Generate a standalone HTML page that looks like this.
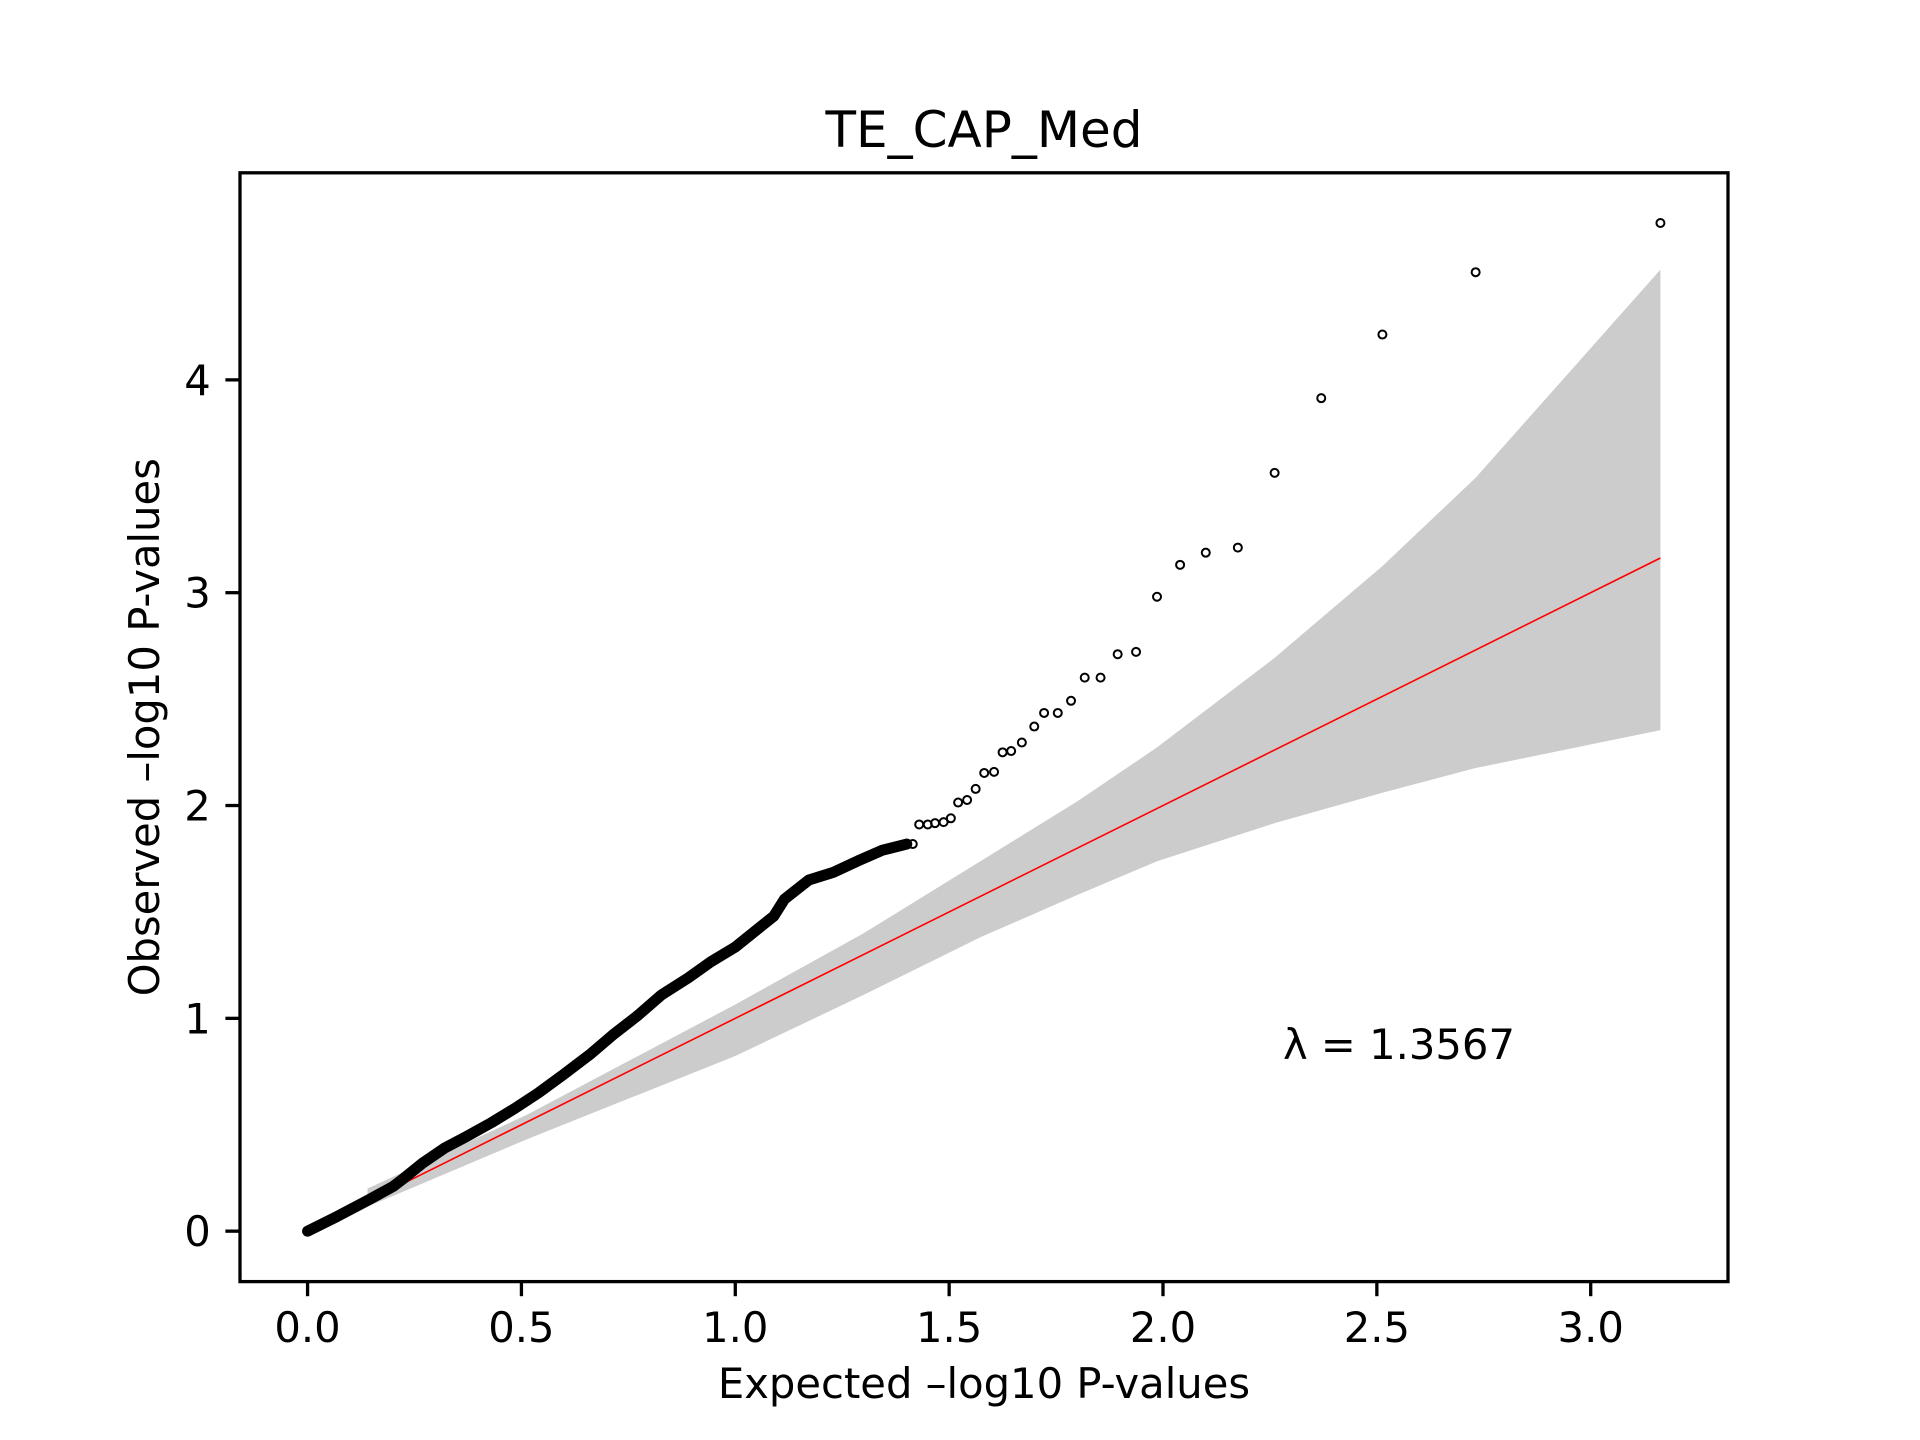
<!DOCTYPE html>
<html><head><meta charset="utf-8">
<style>
html,body{margin:0;padding:0;background:#fff;}
svg{display:block;}
text{font-family:"DejaVu Sans","Liberation Sans",sans-serif;fill:#000;}
</style></head>
<body>
<svg id="chart" width="1920" height="1440" viewBox="0 0 1920 1440" xmlns="http://www.w3.org/2000/svg">
<rect width="1920" height="1440" fill="#fff"/>
<g id="plot"></g>
</svg>
<script>
// ---- data ----
const denseX = [0,0.07,0.14,0.2,0.226,0.269,0.32,0.37,0.43,0.484,0.54,0.599,0.66,0.713,0.77,0.828,0.89,0.943,1.0,1.057,1.09,1.115,1.172,1.229,1.287,1.344,1.401];
const denseY = [0,0.07,0.144,0.21,0.25,0.32,0.39,0.443,0.51,0.576,0.65,0.737,0.83,0.921,1.01,1.111,1.19,1.266,1.335,1.427,1.48,1.56,1.65,1.686,1.74,1.79,1.819];
const sparseX = [3.163,2.731,2.513,2.370,2.261,2.175,2.100,2.040,1.986,1.937,1.894,1.854,1.817,1.785,1.754,1.722,1.699,1.670,1.645,1.625,1.605,1.582,1.562,1.542,1.521,1.504,1.487,1.467,1.450,1.430,1.415];
const sparseY = [4.737,4.506,4.213,3.914,3.563,3.212,3.188,3.131,2.981,2.722,2.711,2.601,2.601,2.492,2.435,2.435,2.371,2.296,2.256,2.250,2.158,2.153,2.078,2.026,2.014,1.940,1.922,1.917,1.911,1.911,1.819];
const bandX = [0.14,0.513,1.0,1.3,1.573,1.8,1.986,2.261,2.513,2.731,3.163];
const bandUpper = [0.2,0.547,1.065,1.40,1.738,2.02,2.273,2.694,3.125,3.540,4.518];
const bandLower = [0.115,0.432,0.823,1.11,1.381,1.58,1.738,1.917,2.060,2.176,2.354];
const refLine = [0,3.163];
const xTicks = [0,0.5,1.0,1.5,2.0,2.5,3.0];
const xTickLabels = ["0.0","0.5","1.0","1.5","2.0","2.5","3.0"];
const yTicks = [0,1,2,3,4];
const yTickLabels = ["0","1","2","3","4"];
const lambdaText = "λ = 1.3567";

// ---- axes ----
const L=240,R=1728,T=172.8,B=1281.6;
const xmin=-0.158,xmax=3.321,ymin=-0.237,ymax=4.973;
const sx=v=>L+(v-xmin)/(xmax-xmin)*(R-L);
const sy=v=>B-(v-ymin)/(ymax-ymin)*(B-T);
const NS="http://www.w3.org/2000/svg";
const g=document.getElementById('plot');
function mk(tag,attrs,parent){const e=document.createElementNS(NS,tag);for(const k in attrs)e.setAttribute(k,attrs[k]);(parent||g).appendChild(e);return e;}

let d="M"+bandX.map((x,i)=>sx(x)+","+sy(bandUpper[i])).join("L");
for(let i=bandX.length-1;i>=0;i--) d+="L"+sx(bandX[i])+","+sy(bandLower[i]);
const band=mk('path',{d:d+"Z",fill:"#cccccc"});



const rl=mk('line',{x1:sx(refLine[0]),y1:sy(refLine[0]),x2:sx(refLine[1]),y2:sy(refLine[1]),stroke:"#ff0000","stroke-width":1.6});



const dp=mk('path',{d:"M"+denseX.map((x,i)=>sx(x)+","+sy(denseY[i])).join("L"),fill:"none",stroke:"#000","stroke-width":11,"stroke-linecap":"round","stroke-linejoin":"round"});



sparseX.forEach((x,i)=>{
  const c=mk('circle',{cx:sx(x),cy:sy(sparseY[i]),r:4,fill:"none",stroke:"#000","stroke-width":2});
  
  
});

const fr=mk('rect',{x:L,y:T,width:R-L,height:B-T,fill:"none",stroke:"#000","stroke-width":3.3});



xTicks.forEach((v,i)=>{
  const x=sx(v);
  const t=mk('line',{x1:x,y1:B,x2:x,y2:B+14.6,stroke:"#000","stroke-width":3.3});
  
  
  const lb=mk('text',{x:x,y:B+14.6+14.6+31,"text-anchor":"middle","font-size":41.7});
  lb.textContent=xTickLabels[i];
  
  
});
yTicks.forEach((v,i)=>{
  const y=sy(v);
  const t=mk('line',{x1:L,y1:y,x2:L-14.6,y2:y,stroke:"#000","stroke-width":3.3});
  
  
  const lb=mk('text',{x:L-14.6-14.6,y:y+15,"text-anchor":"end","font-size":41.7});
  lb.textContent=yTickLabels[i];
  
  
});

const ttl=mk('text',{x:(L+R)/2,y:147,"text-anchor":"middle","font-size":50});
ttl.textContent="TE_CAP_Med";


const xl=mk('text',{x:(L+R)/2,y:1398,"text-anchor":"middle","font-size":41.7});
xl.textContent="Expected \u2013log10 P-values";


const yl=mk('text',{x:0,y:0,"text-anchor":"middle","font-size":41.7,transform:"translate(159,"+((T+B)/2)+") rotate(-90)"});
yl.textContent="Observed \u2013log10 P-values";


const lam=mk('text',{x:1283,y:1059,"font-size":41.7});
lam.textContent=lambdaText;


</script>
</body></html>
